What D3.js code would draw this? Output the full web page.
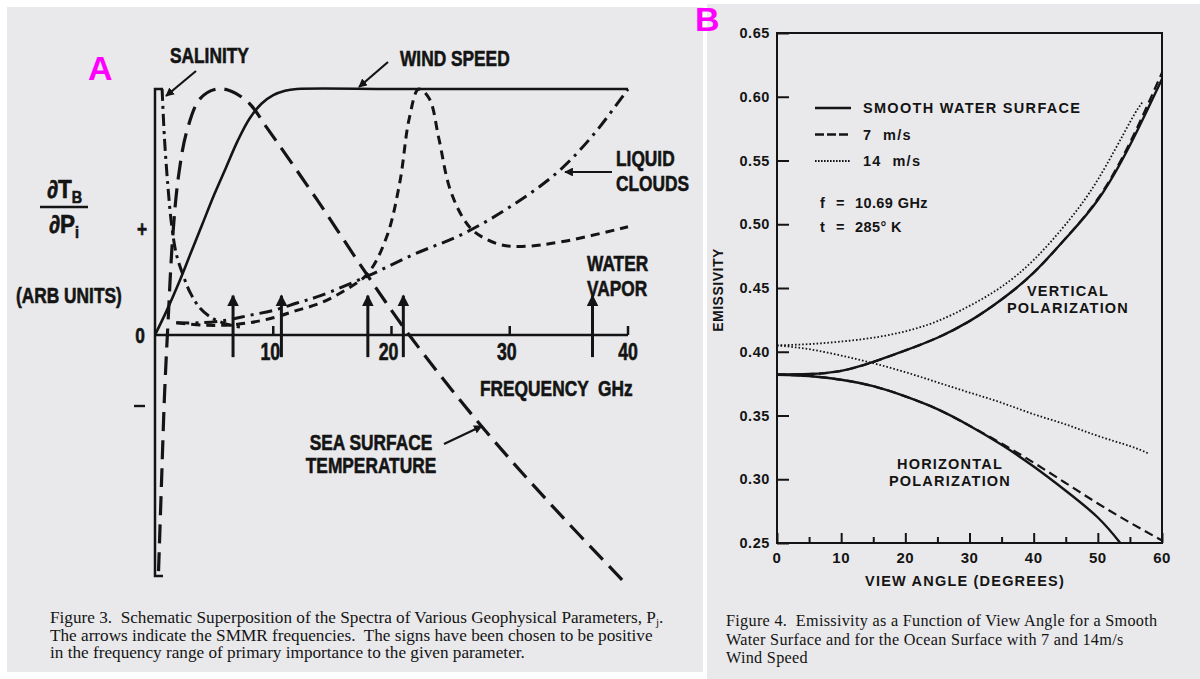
<!DOCTYPE html>
<html>
<head>
<meta charset="utf-8">
<script src="https://cdn.jsdelivr.net/npm/d3@7"></script>
<style>
  body { margin: 0; background: #fff; }
  svg text { fill: #141414; white-space: pre; }
  .cond { font-family: 'Liberation Sans', Arial, sans-serif; font-weight: bold; stroke: #141414; stroke-width: 0.6; }
  .wide { font-family: 'Liberation Sans', Arial, sans-serif; font-weight: bold; }
  .cap { font-family: 'Liberation Serif', 'Times New Roman', serif; }
</style>
</head>
<body>
<div id="chart"></div>
<script>
// ---- Panel A : schematic spectra (GHz, arbitrary units) ----
const windSpeed = [[0,0],[1,0.1],[2,0.21],[3,0.33],[4,0.45],[5,0.57],[6,0.68],[7,0.79],[8,0.88],[9,0.94],[10,0.975],[11,0.993],[12,1],[20,1],[30,1],[40,1]];
const salinity = [[0.6,1],[0.8,0.8],[1.1,0.6],[1.4,0.45],[1.8,0.33],[2.4,0.24],[3,0.17],[3.8,0.11],[4.8,0.07],[6,0.045],[7.5,0.03]];
const seaSurfaceTemp = [[0.3,-0.96],[0.55,-0.6],[0.8,-0.25],[1.1,0.05],[1.5,0.4],[2,0.65],[2.7,0.83],[3.8,0.96],[5.2,1],[6.5,0.99],[8,0.94],[9.5,0.84],[13.7,0.55],[18,0.24],[21.5,0],[27.6,-0.37],[33.5,-0.69],[39.6,-1]];
const waterVapor = [[1.8,0.05],[4,0.04],[6,0.04],[8,0.05],[10,0.07],[12,0.1],[14,0.13],[16,0.18],[18,0.25],[19.6,0.4],[20.7,0.62],[21.5,0.88],[22.3,1],[23.2,0.96],[24,0.8],[24.9,0.6],[26,0.48],[27,0.42],[29,0.37],[31,0.36],[34.5,0.38],[40,0.44]];
const liquidClouds = [[1.8,0.05],[4,0.05],[6,0.06],[8,0.08],[10,0.1],[12,0.13],[14,0.16],[18,0.24],[22,0.33],[26,0.41],[30,0.52],[34,0.66],[37,0.81],[40,1]];
const smmrFreqs = [6.6, 10.69, 18, 21, 37];
const freqTicks = [10, 20, 30, 40];

// ---- Panel B : emissivity vs view angle ----
const angles = [0,5,10,15,20,25,30,35,40,45,50,55,60];
const smoothV = [0.382,0.3825,0.385,0.392,0.401,0.411,0.424,0.441,0.462,0.489,0.519,0.562,0.614];
const wind7V = [0.382,0.3825,0.385,0.392,0.401,0.411,0.424,0.441,0.462,0.489,0.520,0.564,0.619];
const anglesV14 = [0,5,10,15,20,25,30,35,40,45,50,55,57];
const wind14V = [0.405,0.406,0.408,0.411,0.416,0.424,0.436,0.451,0.472,0.500,0.535,0.580,0.596];
const anglesH = [0,5,10,15,20,25,30,35,40,45,50,53.5];
const smoothH = [0.382,0.381,0.378,0.373,0.365,0.355,0.342,0.327,0.310,0.291,0.270,0.25];
const wind7H = [0.382,0.381,0.378,0.373,0.365,0.355,0.342,0.328,0.313,0.297,0.281,0.266,0.252];
const anglesH14 = [0,5,10,15,20,25,30,35,40,45,50,55,58];
const wind14H = [0.405,0.402,0.397,0.391,0.384,0.376,0.368,0.360,0.351,0.343,0.334,0.326,0.320];
const emisTicks = [0.25,0.30,0.35,0.40,0.45,0.50,0.55,0.60,0.65];

const W = 1200, H = 679;
const ink = "#141414";
const svg = d3.select("#chart").append("svg").attr("width", W).attr("height", H);

svg.append("rect").attr("width", W).attr("height", H).attr("fill", "#fff");
svg.append("rect").attr("x", 7).attr("y", 7).attr("width", 696).attr("height", 665).attr("fill", "#e9e9eb");
svg.append("rect").attr("x", 707).attr("y", 4).attr("width", 493).attr("height", 675).attr("fill", "#e9e9eb");

const defs = svg.append("defs");
defs.append("marker").attr("id", "head").attr("viewBox", "0 0 10 10")
  .attr("refX", 9).attr("refY", 5).attr("markerWidth", 4).attr("markerHeight", 4)
  .attr("markerUnits", "strokeWidth").attr("orient", "auto")
  .append("path").attr("d", "M0,0 L10,5 L0,10 Z").attr("fill", ink);

// narrow bold lettering of the old figure: squeeze Liberation Sans horizontally
function condText(sel, x, y, txt, size, anchor, sx) {
  return sel.append("text").attr("class", "cond")
    .attr("transform", `translate(${x},${y}) scale(${sx || 0.77},1)`)
    .attr("text-anchor", anchor || "start").attr("font-size", size).text(txt);
}

// ================= PANEL A =================
const xA = d3.scaleLinear().domain([0, 40]).range([155, 628]);
const yA = d3.scaleLinear().domain([-1, 1]).range([581, 89]);
const gA = svg.append("g");

const lineA = d3.line().x(d => xA(d[0])).y(d => yA(d[1])).curve(d3.curveCatmullRom.alpha(0.5));

// axes
gA.append("path")
  .attr("d", `M${xA(0)+8},${yA(-0.98)} H${xA(0)} V${yA(1)} H${xA(0)+8}`)
  .attr("fill", "none").attr("stroke", ink).attr("stroke-width", 2.5);
gA.append("line").attr("x1", xA(0)).attr("x2", xA(40)).attr("y1", yA(0)).attr("y2", yA(0))
  .attr("stroke", ink).attr("stroke-width", 2.5);
gA.selectAll(".ftick").data(freqTicks).enter().append("line")
  .attr("x1", d => xA(d)).attr("x2", d => xA(d)).attr("y1", yA(0)).attr("y2", yA(0) - 9)
  .attr("stroke", ink).attr("stroke-width", 2.5);
freqTicks.forEach(d => condText(gA, xA(d) - (d === 40 ? 0 : 3), yA(0) + 25, String(d), 23, "middle"));

// curves
const curveStyle = [
  { data: windSpeed, dash: null, w: 2.6 },
  { data: salinity, dash: "12,5,3,5", w: 3 },
  { data: seaSurfaceTemp, dash: "19,9", w: 3.2 },
  { data: waterVapor, dash: "9,6", w: 3 },
  { data: liquidClouds, dash: "13,6,3,6", w: 3 }
];
gA.selectAll(".spec").data(curveStyle).enter().append("path")
  .attr("d", d => lineA(d.data)).attr("fill", "none").attr("stroke", ink)
  .attr("stroke-width", d => d.w).attr("stroke-dasharray", d => d.dash);

// SMMR arrows
gA.selectAll(".smmr").data(smmrFreqs).enter().append("line")
  .attr("x1", d => xA(d)).attr("x2", d => xA(d)).attr("y1", yA(-0.09)).attr("y2", yA(0.16))
  .attr("stroke", ink).attr("stroke-width", 3).attr("marker-end", "url(#head)");

// labels
const labA = [
  { t: "SALINITY", x: 170, y: 63, a: "start" },
  { t: "WIND SPEED", x: 400, y: 66, a: "start" },
  { t: "LIQUID", x: 616, y: 166, a: "start" },
  { t: "CLOUDS", x: 616, y: 191, a: "start" },
  { t: "WATER", x: 587, y: 271, a: "start" },
  { t: "VAPOR", x: 587, y: 296, a: "start" },
  { t: "FREQUENCY  GHz", x: 480, y: 396, a: "start" },
  { t: "SEA SURFACE", x: 371, y: 450, a: "middle" },
  { t: "TEMPERATURE", x: 371, y: 473, a: "middle" },
  { t: "(ARB UNITS)", x: 16, y: 303, a: "start" },
  { t: "0", x: 140, y: 343, a: "middle" },
  { t: "+", x: 142, y: 237, a: "middle" }
];
labA.forEach(d => condText(gA, d.x, d.y, d.t, 22.5, d.a));
gA.append("line").attr("x1", 134).attr("x2", 145).attr("y1", 406).attr("y2", 406)
  .attr("stroke", ink).attr("stroke-width", 2.4);

const pointers = [[196,71,166,96],[388,62,359,87],[612,172,565,172],[444,444,482,426]];
gA.selectAll(".ptr").data(pointers).enter().append("line")
  .attr("x1", d => d[0]).attr("y1", d => d[1]).attr("x2", d => d[2]).attr("y2", d => d[3])
  .attr("stroke", ink).attr("stroke-width", 2.2).attr("marker-end", "url(#head)");

// dTB / dPi
const num = condText(gA, 47, 198, "\u2202T", 25, "start", 0.9);
num.append("tspan").attr("dy", 5).attr("font-size", 16).text("B");
gA.append("line").attr("x1", 40).attr("x2", 88).attr("y1", 207).attr("y2", 207)
  .attr("stroke", ink).attr("stroke-width", 2.4);
const den = condText(gA, 49, 233, "\u2202P", 25, "start", 0.9);
den.append("tspan").attr("dy", 5).attr("font-size", 16).text("i");

svg.append("text").attr("x", 88).attr("y", 80).attr("font-family", "Liberation Sans, Arial, sans-serif")
  .attr("font-weight", "bold").attr("font-size", 34).style("fill", "#ff00ff").text("A");

const capA = [
  "Figure 3.  Schematic Superposition of the Spectra of Various Geophysical Parameters, P",
  "The arrows indicate the SMMR frequencies.  The signs have been chosen to be positive",
  "in the frequency range of primary importance to the given parameter."
];
const capAText = svg.append("g").attr("class", "cap").attr("font-size", 17.2);
capA.forEach((s, i) => {
  const t = capAText.append("text").attr("x", 50).attr("y", 623 + i * 17.5).text(s);
  if (i === 0) {
    t.append("tspan").attr("dy", 3).attr("font-size", 11).text("j");
    t.append("tspan").attr("dy", -3).text(".");
  }
});

// ================= PANEL B =================
const xB = d3.scaleLinear().domain([0, 60]).range([777, 1162]);
const yB = d3.scaleLinear().domain([0.25, 0.65]).range([543, 33]);
const gB = svg.append("g");

gB.append("rect").attr("x", xB(0)).attr("y", yB(0.65)).attr("width", xB(60) - xB(0))
  .attr("height", yB(0.25) - yB(0.65)).attr("fill", "none").attr("stroke", ink).attr("stroke-width", 2);

const yAxisB = d3.axisRight(yB).tickValues(emisTicks).tickSize(12).tickFormat("");
gB.append("g").attr("transform", `translate(${xB(0)},0)`).call(yAxisB)
  .call(g => g.select(".domain").remove())
  .call(g => g.selectAll("line").attr("stroke", ink).attr("stroke-width", 2));
gB.selectAll(".ylab").data(emisTicks).enter().append("text").attr("class", "wide")
  .attr("x", xB(0) - 7).attr("y", d => yB(d) + 5).attr("text-anchor", "end")
  .attr("font-size", 14.5).attr("letter-spacing", 0.6).text(d => d.toFixed(2));

const xAxisMajor = d3.axisTop(xB).tickValues(d3.range(0, 61, 10)).tickSize(10).tickFormat("");
const xAxisMinor = d3.axisTop(xB).tickValues(d3.range(5, 60, 10)).tickSize(6).tickFormat("");
[xAxisMajor, xAxisMinor].forEach(ax => {
  gB.append("g").attr("transform", `translate(0,${yB(0.25)})`).call(ax)
    .call(g => g.select(".domain").remove())
    .call(g => g.selectAll("line").attr("stroke", ink).attr("stroke-width", 2));
});
gB.selectAll(".xlab").data(d3.range(0, 61, 10)).enter().append("text").attr("class", "wide")
  .attr("x", d => xB(d)).attr("y", 563).attr("text-anchor", "middle")
  .attr("font-size", 15).attr("letter-spacing", 0.5).text(d => d);

const lineB = d3.line().x(d => xB(d[0])).y(d => yB(d[1])).curve(d3.curveNatural);
const zip = (a, b) => a.map((v, i) => [v, b[i]]);
const seriesB = [
  { pts: zip(anglesV14, wind14V), dash: "1.6,2", w: 1.8 },
  { pts: zip(anglesH14, wind14H), dash: "1.6,2", w: 1.8 },
  { pts: zip(angles, wind7V), dash: "9,5", w: 2.2 },
  { pts: zip(angles, wind7H), dash: "9,5", w: 2.2 },
  { pts: zip(angles, smoothV), dash: null, w: 2.4 },
  { pts: zip(anglesH, smoothH), dash: null, w: 2.4 }
];
gB.selectAll(".em").data(seriesB).enter().append("path")
  .attr("d", d => lineB(d.pts)).attr("fill", "none").attr("stroke", ink)
  .attr("stroke-width", d => d.w).attr("stroke-dasharray", d => d.dash);

// legend
const legB = [
  { t: "SMOOTH WATER SURFACE", dash: null, w: 2.4 },
  { t: "7  m/s", dash: "9,3", w: 2.4 },
  { t: "14  m/s", dash: "1.6,1.4", w: 2 }
];
legB.forEach((d, i) => {
  const y = 108 + i * 26.5;
  gB.append("line").attr("x1", 815).attr("x2", 851).attr("y1", y).attr("y2", y)
    .attr("stroke", ink).attr("stroke-width", d.w).attr("stroke-dasharray", d.dash);
  gB.append("text").attr("class", "wide").attr("x", 863).attr("y", y + 5)
    .attr("font-size", 14.5).attr("letter-spacing", 1.3).text(d.t);
});
const params = [["f", "10.69 GHz", 208], ["t", "285\u00b0 K", 232]];
params.forEach(p => {
  gB.append("text").attr("class", "wide").attr("x", 820).attr("y", p[2]).attr("font-size", 14.5).text(p[0]);
  gB.append("text").attr("class", "wide").attr("x", 836).attr("y", p[2]).attr("font-size", 14.5).text("=");
  gB.append("text").attr("class", "wide").attr("x", 855).attr("y", p[2]).attr("font-size", 14.5).attr("letter-spacing", 0.4).text(p[1]);
});
const labB = [
  { t: "VERTICAL", x: 1068, y: 296 },
  { t: "POLARIZATION", x: 1068, y: 313 },
  { t: "HORIZONTAL", x: 950, y: 469 },
  { t: "POLARIZATION", x: 950, y: 486 },
  { t: "VIEW ANGLE (DEGREES)", x: 965, y: 586 }
];
gB.selectAll(".lb").data(labB).enter().append("text").attr("class", "wide")
  .attr("x", d => d.x).attr("y", d => d.y).attr("text-anchor", "middle")
  .attr("font-size", 14.5).attr("letter-spacing", 1.2).text(d => d.t);
gB.append("text").attr("class", "wide").attr("transform", "translate(723,290) rotate(-90)")
  .attr("text-anchor", "middle").attr("font-size", 14).attr("letter-spacing", 0.5).text("EMISSIVITY");

svg.append("text").attr("x", 695).attr("y", 31).attr("font-family", "Liberation Sans, Arial, sans-serif")
  .attr("font-weight", "bold").attr("font-size", 34).style("fill", "#ff00ff").text("B");

const capB = [
  "Figure 4.  Emissivity as a Function of View Angle for a Smooth",
  "Water Surface and for the Ocean Surface with 7 and 14m/s",
  "Wind Speed"
];
svg.append("g").attr("class", "cap").attr("font-size", 16.2).selectAll("text").data(capB).enter()
  .append("text").attr("x", 726).attr("y", (d, i) => 626 + i * 18.5).attr("letter-spacing", 0.3).text(d => d);
</script>
</body>
</html>
